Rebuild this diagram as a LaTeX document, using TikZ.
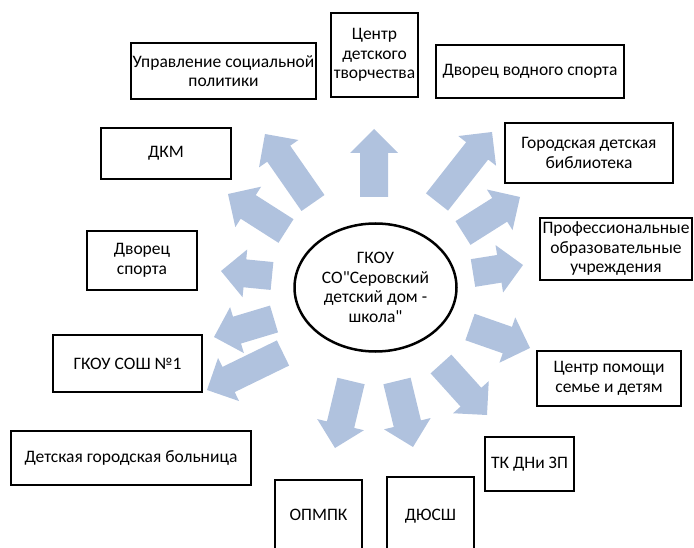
\documentclass[tikz,border=0pt]{standalone}
\usepackage{fontspec}
\setmainfont{Carlito}[Ligatures=TeXOff]
\usetikzlibrary{shapes.geometric,calc}
\definecolor{arrowblue}{RGB}{176,194,222}
\tikzset{
	org/.style={draw, line width=2.5pt, align=center, inner sep=0pt, font=\fontsize{17.5}{19.5}\selectfont},
	centre/.style={org, ellipse, minimum width=162pt, minimum height=128pt}
}

\begin{document}
\begin{tikzpicture}[x=1pt,y=-1pt]
\useasboundingbox (0,0) rectangle (694,548);
		\foreach \bx/\by/\tx/\ty in {313/203/265/134, 286/231/228/194, 272/276/221/271, 274/319/214/337, 283/353/207/390, 351/381/335/448, 397/381/413/447, 441/364/487/415, 470/327/530/348, 473/273/523/265, 463/233/520/197, 437/202/492/132, 374/197/374/129} % block arrows
		{
		\coordinate (b) at (\bx,\by);
		\coordinate (t) at (\tx,\ty);
		\coordinate (h) at ($(t)!24pt!(b)$);
		\fill[arrowblue] ($(b)!14pt!90:(t)$) -- ($(h)!14pt!90:(t)$) -- ($(h)!24pt!90:(t)$) -- (t) -- ($(h)!24pt!-90:(t)$) -- ($(h)!14pt!-90:(t)$) -- ($(b)!14pt!-90:(t)$) -- cycle;
		}
\node[centre] (gkou) at (375.5,287.5) {ГКОУ\\СО"Серовский\\детский дом -\\школа"};
\node[org, minimum width=185pt, minimum height=56pt] (upr) at (223.5,71) {Управление социальной\\политики};
\node[org, minimum width=87pt, minimum height=84pt] (cdt) at (374.5,55) {Центр\\детского\\творчества};
\node[org, minimum width=188pt, minimum height=53pt] (dvs) at (530,71.5) {Дворец водного спорта};
\node[org, minimum width=168pt, minimum height=60pt] (gdb) at (589,153) {Городская детская\\библиотека};
\node[org, minimum width=152pt, minimum height=62pt] (prof) at (616,249) {Профессиональные\\образовательные\\учреждения};
\node[org, minimum width=144pt, minimum height=55pt] (cpsd) at (609,378.5) {Центр помощи\\семье и детям};
\node[org, minimum width=89pt, minimum height=54pt] (tk) at (529.5,464) {ТК ДНи ЗП};
\node[org, minimum width=87pt, minimum height=78pt] (dyussh) at (430.5,516) {ДЮСШ};
\node[org, minimum width=87pt, minimum height=70pt] (opmpk) at (318.5,515) {ОПМПК};
\node[org, minimum width=240pt, minimum height=54pt] (dgb) at (131,458) {Детская городская больница};
\node[org, minimum width=149pt, minimum height=57pt] (sosh) at (127.5,363.5) {ГКОУ СОШ №1};
\node[org, minimum width=110pt, minimum height=59pt] (dsport) at (142,260.5) {Дворец\\спорта};
\node[org, minimum width=130pt, minimum height=51pt] (dkm) at (166,153.5) {ДКМ};
\end{tikzpicture}
\end{document}
